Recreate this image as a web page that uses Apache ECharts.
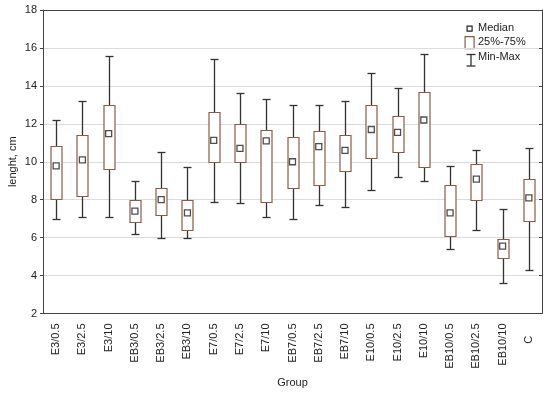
<!DOCTYPE html>
<html>
<head>
<meta charset="utf-8">
<script src="https://cdn.jsdelivr.net/npm/echarts@6/dist/echarts.min.js"></script>
<style>html,body{margin:0;padding:0;background:#fff}#c{width:550px;height:393px}</style>
</head>
<body>
<div id="c"></div>
<script>
const categories = ['E3/0.5','E3/2.5','E3/10','EB3/0.5','EB3/2.5','EB3/10','E7/0.5','E7/2.5','E7/10','EB7/0.5','EB7/2.5','EB7/10','E10/0.5','E10/2.5','E10/10','EB10/0.5','EB10/2.5','EB10/10','C'];
const minVals    = [7.0, 7.1, 7.1, 6.2, 6.0, 6.0, 7.9, 7.8, 7.1, 7.0, 7.7, 7.6, 8.5, 9.2, 9.0, 5.4, 6.4, 3.6, 4.3];
const q1Vals     = [8.05, 8.2, 9.6, 6.8, 7.2, 6.4, 10.0, 10.0, 7.9, 8.6, 8.8, 9.5, 10.2, 10.5, 9.7, 6.1, 8.0, 4.9, 6.9];
const medianVals = [9.78, 10.1, 11.48, 7.4, 8.0, 7.3, 11.13, 10.7, 11.1, 10.0, 10.8, 10.6, 11.7, 11.55, 12.2, 7.3, 9.08, 5.55, 8.1];
const q3Vals     = [10.85, 11.4, 13.0, 8.0, 8.6, 8.0, 12.6, 12.0, 11.7, 11.3, 11.6, 11.4, 13.0, 12.4, 13.7, 8.8, 9.9, 5.95, 9.1];
const maxVals    = [12.2, 13.2, 15.6, 9.0, 10.5, 9.7, 15.4, 13.6, 13.3, 13.0, 13.0, 13.2, 14.7, 13.9, 15.7, 9.8, 10.6, 7.5, 10.7];
const yTicks = [2, 4, 6, 8, 10, 12, 14, 16, 18];

const FONT = 'Liberation Sans, Arial, sans-serif';
const BOX = '#8c5a46';
const WH = '#333333';
const AX = '#444444';

const boxData = categories.map((c, i) => [i, minVals[i], q1Vals[i], q3Vals[i], maxVals[i]]);
const medData = categories.map((c, i) => [i, medianVals[i]]);

const chart = echarts.init(document.getElementById('c'), null, {renderer: 'canvas'});
chart.setOption({
  animation: false,
  backgroundColor: '#fff',
  grid: {left: 43, right: 8, top: 10, bottom: 79.5, containLabel: false, outerBoundsMode: 'none'},
  xAxis: [{
    type: 'category', data: categories, boundaryGap: true,
    name: 'Group', nameLocation: 'middle', nameGap: 64, nameMoveOverlap: false,
    nameTextStyle: {fontFamily: FONT, fontSize: 11, color: '#222'},
    axisLine: {lineStyle: {color: AX, width: 1}},
    axisTick: {inside: true, alignWithLabel: true, length: 3, lineStyle: {color: AX}},
    axisLabel: {rotate: 90, margin: 10, fontFamily: FONT, fontSize: 11, color: '#222', interval: 0,
      formatter: v => (v === 'C' ? 'C    ' : v)},
    splitLine: {show: false}
  }, {
    type: 'category', data: categories, position: 'top', boundaryGap: true,
    axisLine: {lineStyle: {color: AX, width: 1}},
    axisTick: {inside: true, alignWithLabel: true, length: 3, lineStyle: {color: AX}},
    axisLabel: {show: false}, splitLine: {show: false}
  }],
  yAxis: [{
    type: 'value', min: yTicks[0], max: yTicks[yTicks.length - 1], interval: 2,
    name: 'lenght, cm', nameLocation: 'middle', nameGap: 25, nameMoveOverlap: false,
    nameTextStyle: {fontFamily: FONT, fontSize: 11, color: '#222'},
    axisLine: {show: true, lineStyle: {color: AX, width: 1}},
    axisTick: {show: true, inside: false, length: 3, lineStyle: {color: AX}},
    axisLabel: {margin: 6, fontFamily: FONT, fontSize: 11, color: '#222'},
    splitLine: {show: true, lineStyle: {color: '#dcdcdc', width: 1}}
  }, {
    type: 'value', min: yTicks[0], max: yTicks[yTicks.length - 1], interval: 2, position: 'right',
    axisLine: {show: true, lineStyle: {color: AX, width: 1}},
    axisTick: {show: true, inside: true, length: 3, lineStyle: {color: AX}},
    axisLabel: {show: false}, splitLine: {show: false}
  }],
  series: [{
    name: 'Min-Max', type: 'custom', data: boxData,
    encode: {x: 0, y: [1, 4]}, z: 2,
    renderItem: function (params, api) {
      const x = api.value(0);
      const pMin = api.coord([x, api.value(1)]);
      const pMax = api.coord([x, api.value(4)]);
      const cx = Math.round(pMin[0]) + 0.5;
      const yMin = Math.round(pMin[1]) + 0.5, yMax = Math.round(pMax[1]) + 0.5;
      const hw = 4;
      const st = {stroke: WH, lineWidth: 1.3};
      return {type: 'group', children: [
        {type: 'line', shape: {x1: cx, y1: yMax, x2: cx, y2: yMin}, style: st},
        {type: 'line', shape: {x1: cx - hw, y1: yMax, x2: cx + hw, y2: yMax}, style: st},
        {type: 'line', shape: {x1: cx - hw, y1: yMin, x2: cx + hw, y2: yMin}, style: st}
      ]};
    }
  }, {
    name: '25%-75%', type: 'custom', data: boxData,
    encode: {x: 0, y: [2, 3]}, z: 3,
    renderItem: function (params, api) {
      const x = api.value(0);
      const p1 = api.coord([x, api.value(2)]);
      const p3 = api.coord([x, api.value(3)]);
      const w = 11;
      const cx = Math.round(p1[0]) + 0.5;
      return {type: 'rect', shape: {x: cx - w / 2, y: Math.round(p3[1]) + 0.5, width: w, height: Math.round(p1[1]) - Math.round(p3[1])},
        style: {fill: '#ffffff', stroke: BOX, lineWidth: 1.2}};
    }
  }, {
    name: 'Median', type: 'scatter', data: medData, z: 4,
    symbol: 'rect', symbolSize: 6,
    itemStyle: {color: '#ffffff', borderColor: '#222', borderWidth: 1.3}
  }],
  graphic: [
    {type: 'rect', left: 466.5, top: 25.5, shape: {width: 5, height: 5}, style: {fill: '#fff', stroke: '#222', lineWidth: 1.2}},
    {type: 'text', left: 478, top: 22, style: {text: 'Median', font: '11px ' + FONT, fill: '#222'}},
    {type: 'rect', left: 464.5, top: 36, shape: {width: 9, height: 12}, style: {fill: '#fff', stroke: BOX, lineWidth: 1.2}},
    {type: 'text', left: 478, top: 36.5, style: {text: '25%-75%', font: '11px ' + FONT, fill: '#222'}},
    {type: 'group', left: 464, top: 51.5, children: [
      {type: 'line', shape: {x1: 4.5, y1: 0, x2: 4.5, y2: 12}, style: {stroke: WH, lineWidth: 1.3}},
      {type: 'line', shape: {x1: 0, y1: 0.5, x2: 9, y2: 0.5}, style: {stroke: WH, lineWidth: 1.3}},
      {type: 'line', shape: {x1: 0, y1: 12, x2: 9, y2: 12}, style: {stroke: WH, lineWidth: 1.3}}
    ]},
    {type: 'text', left: 478, top: 51, style: {text: 'Min-Max', font: '11px ' + FONT, fill: '#222'}}
  ]
});
</script>
</body>
</html>
